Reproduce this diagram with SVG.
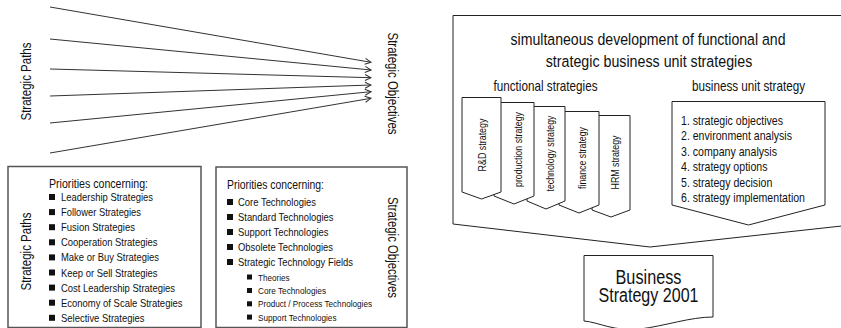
<svg xmlns="http://www.w3.org/2000/svg" width="841" height="328" viewBox="0 0 841 328">
  <style>
    text { font-family: "Liberation Sans Narrow", "Liberation Sans", Arial, sans-serif; fill: #111; }
    .box { fill: #fff; stroke: #555; stroke-width: 1.5; }
    .shape { fill: #fff; stroke: #222; stroke-width: 1; }
    .ray { stroke: #333; stroke-width: 1; fill: none; marker-end: url(#arr); }
    .link { stroke: #999; stroke-width: 1; fill: none; marker-end: url(#arrg); }
    .bul { fill: #111; }
    .lbl { font-size: 14px; }
    .item { font-size: 11.5px; }
    .sub { font-size: 9.9px; }
    .head { font-size: 12.8px; }
    .tab { font-size: 10.7px; }
    .bu { font-size: 12.9px; }
  </style>
  <defs>
    <marker id="arr" viewBox="0 0 8 8" refX="7" refY="4" markerWidth="8" markerHeight="8" orient="auto" markerUnits="userSpaceOnUse">
      <path d="M1,1 L7,4 L1,7" fill="none" stroke="#333" stroke-width="1"/>
    </marker>
    <marker id="arrg" viewBox="0 0 8 8" refX="7" refY="4" markerWidth="8" markerHeight="8" orient="auto" markerUnits="userSpaceOnUse">
      <path d="M1,1 L7,4 L1,7" fill="none" stroke="#888" stroke-width="1"/>
    </marker>
  </defs>

  <!-- paths converging on objectives -->
  <g id="connectors">
    <line class="ray" x1="50" y1="7" x2="371" y2="62.3"/>
    <line class="ray" x1="50" y1="39" x2="371" y2="70"/>
    <line class="ray" x1="50" y1="69" x2="371" y2="77.7"/>
    <line class="ray" x1="50" y1="96" x2="371" y2="85"/>
    <line class="ray" x1="50" y1="123" x2="371" y2="91.7"/>
    <line class="ray" x1="50" y1="153" x2="371" y2="98.3"/>
    <line class="link" x1="630" y1="143" x2="672" y2="143"/>
    <line class="link" x1="672" y1="167" x2="631" y2="167"/>
  </g>

  <g id="paths-label">
    <text class="lbl" transform="translate(31,81.5) rotate(-90)" text-anchor="middle" textLength="78" lengthAdjust="spacingAndGlyphs">Strategic Paths</text>
  </g>
  <g id="objectives-label">
    <text class="lbl" transform="translate(388,83.5) rotate(90)" text-anchor="middle" textLength="102" lengthAdjust="spacingAndGlyphs">Strategic Objectives</text>
  </g>

  <!-- strategic paths list -->
  <g id="paths-box">
    <rect class="box" x="8" y="166.5" width="193" height="161"/>
    <text class="lbl" transform="translate(31,251.5) rotate(-90)" text-anchor="middle" textLength="78" lengthAdjust="spacingAndGlyphs">Strategic Paths</text>
    <text class="head" x="49" y="188" textLength="99" lengthAdjust="spacingAndGlyphs">Priorities concerning:</text>
    <g class="bul">
      <rect x="49" y="194" width="6" height="6"/>
      <rect x="49" y="209.1" width="6" height="6"/>
      <rect x="49" y="224.2" width="6" height="6"/>
      <rect x="49" y="239.3" width="6" height="6"/>
      <rect x="49" y="254.4" width="6" height="6"/>
      <rect x="49" y="269.5" width="6" height="6"/>
      <rect x="49" y="284.6" width="6" height="6"/>
      <rect x="49" y="299.7" width="6" height="6"/>
      <rect x="49" y="314.8" width="6" height="6"/>
    </g>
    <text class="item" x="61" y="201" textLength="92" lengthAdjust="spacingAndGlyphs">Leadership Strategies</text>
    <text class="item" x="61" y="216.1" textLength="80" lengthAdjust="spacingAndGlyphs">Follower Strategies</text>
    <text class="item" x="61" y="231.2" textLength="74" lengthAdjust="spacingAndGlyphs">Fusion Strategies</text>
    <text class="item" x="61" y="246.3" textLength="96.5" lengthAdjust="spacingAndGlyphs">Cooperation Strategies</text>
    <text class="item" x="61" y="261.4" textLength="98" lengthAdjust="spacingAndGlyphs">Make or Buy Strategies</text>
    <text class="item" x="61" y="276.5" textLength="96.5" lengthAdjust="spacingAndGlyphs">Keep or Sell Strategies</text>
    <text class="item" x="61" y="291.6" textLength="114" lengthAdjust="spacingAndGlyphs">Cost Leadership Strategies</text>
    <text class="item" x="61" y="306.7" textLength="121.5" lengthAdjust="spacingAndGlyphs">Economy of Scale Strategies</text>
    <text class="item" x="61" y="321.8" textLength="83.6" lengthAdjust="spacingAndGlyphs">Selective Strategies</text>
  </g>

  <!-- strategic objectives list -->
  <g id="objectives-box">
    <rect class="box" x="216" y="167" width="191" height="160.5"/>
    <text class="lbl" transform="translate(388,247.5) rotate(90)" text-anchor="middle" textLength="101" lengthAdjust="spacingAndGlyphs">Strategic Objectives</text>
    <text class="head" x="227" y="189" textLength="97" lengthAdjust="spacingAndGlyphs">Priorities concerning:</text>
    <g class="bul">
      <rect x="227" y="199" width="6" height="6"/>
      <rect x="227" y="214" width="6" height="6"/>
      <rect x="227" y="229" width="6" height="6"/>
      <rect x="227" y="244" width="6" height="6"/>
      <rect x="227" y="259" width="6" height="6"/>
      <rect x="247" y="274.5" width="5" height="5"/>
      <rect x="247" y="288" width="5" height="5"/>
      <rect x="247" y="301.3" width="5" height="5"/>
      <rect x="247" y="314.6" width="5" height="5"/>
    </g>
    <text class="item" x="238" y="206" textLength="78" lengthAdjust="spacingAndGlyphs">Core Technologies</text>
    <text class="item" x="238" y="221" textLength="95.5" lengthAdjust="spacingAndGlyphs">Standard Technologies</text>
    <text class="item" x="238" y="236" textLength="90.5" lengthAdjust="spacingAndGlyphs">Support Technologies</text>
    <text class="item" x="238" y="251" textLength="95" lengthAdjust="spacingAndGlyphs">Obsolete Technologies</text>
    <text class="item" x="238" y="266" textLength="115" lengthAdjust="spacingAndGlyphs">Strategic Technology Fields</text>
    <text class="sub" x="258" y="280.5" textLength="31.5" lengthAdjust="spacingAndGlyphs">Theories</text>
    <text class="sub" x="258" y="294" textLength="68" lengthAdjust="spacingAndGlyphs">Core Technologies</text>
    <text class="sub" x="258" y="307.3" textLength="114" lengthAdjust="spacingAndGlyphs">Product / Process Technologies</text>
    <text class="sub" x="258" y="320.6" textLength="78.5" lengthAdjust="spacingAndGlyphs">Support Technologies</text>
  </g>

  <!-- simultaneous development frame -->
  <g id="development-frame">
    <path class="shape" d="M453,15.5 H860 V224 L650,247 L453,224 Z"/>
    <text x="648" y="44.5" font-size="17.4" text-anchor="middle" textLength="275" lengthAdjust="spacingAndGlyphs">simultaneous development of functional and</text>
    <text x="649" y="66.5" font-size="17.4" text-anchor="middle" textLength="206.5" lengthAdjust="spacingAndGlyphs">strategic business unit strategies</text>
    <text x="545.5" y="91" font-size="14.3" text-anchor="middle" textLength="104" lengthAdjust="spacingAndGlyphs">functional strategies</text>
    <text x="748.5" y="91" font-size="14.3" text-anchor="middle" textLength="113" lengthAdjust="spacingAndGlyphs">business unit strategy</text>
  </g>

  <!-- functional strategy tabs, later ones tucked behind earlier ones -->
  <g id="tab-hrm">
    <path class="shape" d="M592,115.5 H630 V210 L611,217 L592,210 Z"/>
    <text class="tab" transform="translate(618.5,162.5) rotate(-90)" text-anchor="middle" textLength="54" lengthAdjust="spacingAndGlyphs">HRM strategy</text>
  </g>
  <g id="tab-finance">
    <path class="shape" d="M559,111.5 H599 V205 L579,213 L559,205 Z"/>
    <text class="tab" transform="translate(586,158) rotate(-90)" text-anchor="middle" textLength="62" lengthAdjust="spacingAndGlyphs">finance strategy</text>
  </g>
  <g id="tab-technology">
    <path class="shape" d="M527,106.5 H565 V201 L546,209 L527,201 Z"/>
    <text class="tab" transform="translate(553.5,153.5) rotate(-90)" text-anchor="middle" textLength="76" lengthAdjust="spacingAndGlyphs">technology strategy</text>
  </g>
  <g id="tab-production">
    <path class="shape" d="M494,102.5 H534 V196 L514,204 L494,196 Z"/>
    <text class="tab" transform="translate(521.5,149.5) rotate(-90)" text-anchor="middle" textLength="75" lengthAdjust="spacingAndGlyphs">production strategy</text>
  </g>
  <g id="tab-rd">
    <path class="shape" d="M462,97.5 H501 V192 L481.5,199 L462,192 Z"/>
    <text class="tab" transform="translate(486,145) rotate(-90)" text-anchor="middle" textLength="53" lengthAdjust="spacingAndGlyphs">R&amp;D strategy</text>
  </g>

  <!-- business unit strategy steps -->
  <g id="business-unit">
    <path class="shape" d="M672,101.5 H825 V205 L748.5,225 L672,205 Z"/>
    <text class="bu" x="681" y="124.5" textLength="102" lengthAdjust="spacingAndGlyphs">1. strategic objectives</text>
    <text class="bu" x="681" y="140" textLength="111" lengthAdjust="spacingAndGlyphs">2. environment analysis</text>
    <text class="bu" x="681" y="155.5" textLength="96" lengthAdjust="spacingAndGlyphs">3. company analysis</text>
    <text class="bu" x="681" y="171" textLength="86.5" lengthAdjust="spacingAndGlyphs">4. strategy options</text>
    <text class="bu" x="681" y="186.5" textLength="91.3" lengthAdjust="spacingAndGlyphs">5. strategy decision</text>
    <text class="bu" x="681" y="202" textLength="124" lengthAdjust="spacingAndGlyphs">6. strategy implementation</text>
  </g>

  <!-- resulting document -->
  <g id="business-strategy-2001">
    <path class="shape" d="M584,255.5 H713 V317 C690,317 665,326 640,329 C615,332 598,322 584,321 Z"/>
    <text x="648.5" y="283.5" font-size="19.6" text-anchor="middle" textLength="66" lengthAdjust="spacingAndGlyphs">Business</text>
    <text x="648.5" y="302" font-size="19.6" text-anchor="middle" textLength="100" lengthAdjust="spacingAndGlyphs">Strategy 2001</text>
  </g>
</svg>
